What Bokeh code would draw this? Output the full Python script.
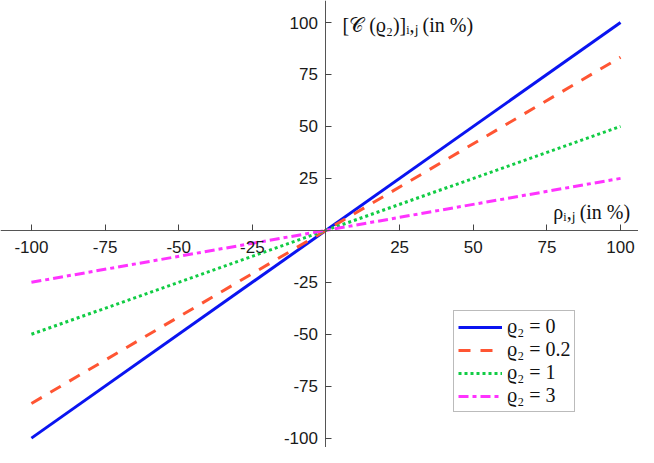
from bokeh.plotting import figure
from bokeh.models import LinearAxis, FixedTicker, Range1d, Label, Legend, LegendItem
from bokeh.embed import file_html
from bokeh.resources import INLINE

# data
rho = [-100, 100]
series_names = ["ϱ₂ = 0", "ϱ₂ = 0.2", "ϱ₂ = 1", "ϱ₂ = 3"]
c_rho0 = [-100, 100]
c_rho02 = [-83.3, 83.3]
c_rho1 = [-50, 50]
c_rho3 = [-25, 25]
ticks = [-100, -75, -50, -25, 25, 50, 75, 100]
tick_labels = ["-100", "-75", "-50", "-25", "25", "50", "75", "100"]

p = figure(width=638, height=447, output_backend="svg", toolbar_location=None,
           x_range=Range1d(-110.5, 106.1), y_range=Range1d(-104.5, 110.6),
           x_axis_location=None, y_axis_location=None, min_border=0)
p.grid.visible = False
p.outline_line_color = None
p.background_fill_color = "white"

tick_font = "Liberation Sans"
xa = LinearAxis(fixed_location=0, ticker=FixedTicker(ticks=ticks))
ya = LinearAxis(fixed_location=0, ticker=FixedTicker(ticks=ticks))
for ax in (xa, ya):
    ax.axis_line_color = "#555555"
    ax.axis_line_width = 1
    ax.major_tick_line_color = "#444444"
    ax.major_tick_line_width = 1
    ax.minor_tick_line_color = None
    ax.major_tick_in = 6
    ax.major_tick_out = 0
    ax.major_label_text_font = tick_font
    ax.major_label_text_font_size = "17px"
    ax.major_label_text_color = "#1a1a1a"
    ax.major_label_overrides = dict(zip(ticks, tick_labels))
xa.major_label_standoff = 11
ya.major_label_standoff = 8
p.add_layout(xa, "below")
p.add_layout(ya, "left")

colors = ["#0A14F0", "#FF5533", "#11CC44", "#FF33FF"]
dashes = ["solid", "12 10", "3 3", "10 4 4 4"]
ys = [c_rho0, c_rho02, c_rho1, c_rho3]
renderers = []
for yv, col, d in zip(ys, colors, dashes):
    r = p.line(rho, yv, line_color=col, line_width=3, line_dash=d)
    renderers.append(r)

legend = Legend(items=[LegendItem(label=n, renderers=[r]) for n, r in zip(series_names, renderers)],
                location=(453, 35))
legend.border_line_color = "#777777"
legend.border_line_width = 1
legend.background_fill_alpha = 1
legend.label_text_font = "Liberation Serif"
legend.label_text_font_size = "20px"
legend.label_text_color = "#111111"
legend.glyph_width = 44
legend.glyph_height = 20
legend.label_height = 20
legend.spacing = -2
legend.padding = 4
legend.margin = 0
legend.label_standoff = 5
p.add_layout(legend, "center")

ylab = Label(x=5.6, y=98.6, text="[𝒞 (ϱ₂)]ᵢ,ⱼ  (in %)", text_font="Liberation Serif",
             text_font_size="20px", text_color="#111111", text_baseline="alphabetic")
xlab = Label(x=77.2, y=8.6, text="ρᵢ,ⱼ  (in %)", text_font="Liberation Serif",
             text_font_size="20px", text_color="#111111", text_baseline="alphabetic")
p.add_layout(ylab)
p.add_layout(xlab)

open("out.html", "w").write(file_html(p, INLINE))
